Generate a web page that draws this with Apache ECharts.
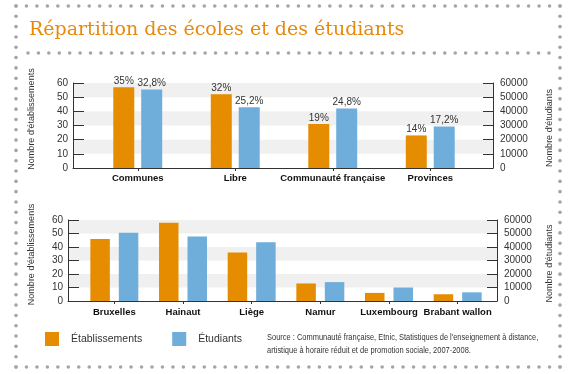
<!DOCTYPE html>
<html><head><meta charset="utf-8">
<script src="https://cdn.jsdelivr.net/npm/echarts@6/dist/echarts.min.js"></script>
<style>html,body{margin:0;padding:0;background:#fff}#c{width:570px;height:374px}</style>
</head><body><div id="c"></div>
<script>
// ---- data ----
const topCategories = ['Communes', 'Libre', 'Communauté française', 'Provinces'];
const topEtab = [57, 52, 31, 23];
const topEtud = [55500, 42800, 42000, 29300];
const topEtabPct = ['35%', '32%', '19%', '14%'];
const topEtudPct = ['32,8%', '25,2%', '24,8%', '17,2%'];
const botCategories = ['Bruxelles', 'Hainaut', 'Liège', 'Namur', 'Luxembourg', 'Brabant wallon'];
const botEtab = [46, 58, 36, 13, 6, 5];
const botEtud = [50500, 47700, 43600, 14000, 10000, 6400];
const leftTicks = [0, 60, 10];
const rightTicks = [0, 60000, 10000];
const seriesNames = ['Établissements', 'Étudiants'];
const titleText = 'Répartition des écoles et des étudiants';
const sourceLines = ["Source : Communauté française, Etnic, Statistiques de l'enseignement à distance,", "artistique à horaire réduit et de promotion sociale, 2007-2008."];

const FONT = "'Liberation Sans', Arial, sans-serif";
const ORANGE = '#E68C00', BLUE = '#6FAEDB', TXT = '#333333';

const chart = echarts.init(document.getElementById('c'), null, {renderer: 'canvas'});

function frameY(pos, range, tickLen, name, gap, pad) {
  return {
    type: 'value', position: pos, min: range[0], max: range[1], interval: range[2],
    axisLine: {show: true, lineStyle: {color: TXT, width: 1}},
    axisTick: {show: true, inside: true, length: tickLen, lineStyle: {color: TXT}},
    axisLabel: {color: TXT, fontFamily: FONT, fontSize: 10, margin: pos === 'left' ? 5 : 7,
      formatter: v => String(v)},
    splitLine: {show: false},
    splitArea: pos === 'left' ? {show: true, areaStyle: {color: ['rgba(255,255,255,0)', '#F0F0F0']}} : {show: false},
    name: name, nameLocation: 'middle', nameGap: gap, nameRotate: 90,
    nameTextStyle: {color: TXT, fontFamily: FONT, fontSize: 9, padding: pad}
  };
}
function hiddenY(range) {
  return {type: 'value', show: false, min: range[0], max: range[1], interval: range[2], splitLine: {show: false}};
}
function frameX() {
  return {type: 'value', min: 0, max: 1, axisLine: {show: true, lineStyle: {color: TXT}},
    axisTick: {show: false}, axisLabel: {show: false}, splitLine: {show: false}};
}
function catX(cats, margin) {
  return {type: 'category', data: cats, axisLine: {show: false},
    axisTick: {show: true, alignWithLabel: true, length: 3, lineStyle: {color: TXT}},
    axisLabel: {color: '#111', fontFamily: FONT, fontWeight: 'bold', fontSize: 9.5, margin: margin, interval: 0},
    splitLine: {show: false}};
}

// decorative dotted frame
const dots = [];
function dotRow(x0, x1, y, n) { for (let i = 0; i <= n; i++) dots.push({type: 'circle', shape: {cx: x0 + (x1 - x0) * i / n, cy: y, r: 1.8}, style: {fill: '#A5A5A5'}, silent: true}); }
function dotCol(x, y0, y1, n) { for (let i = 0; i <= n; i++) dots.push({type: 'circle', shape: {cx: x, cy: y0 + (y1 - y0) * i / n, r: 1.8}, style: {fill: '#A5A5A5'}, silent: true}); }
dotRow(16, 560, 6, 52);
dotRow(28, 549, 53, 50);
dotRow(16, 560, 367, 52);
dotCol(16, 6, 367, 35);
dotCol(560, 6, 367, 35);

const option = {
  animation: false,
  backgroundColor: '#fff',
  textStyle: {fontFamily: FONT},
  title: {text: titleText, left: 29, top: 21, padding: 0,
    textStyle: {color: '#E8890C', fontFamily: "'DejaVu Serif', serif", fontSize: 19, fontWeight: 'normal'}},
  legend: {data: seriesNames, left: 45, top: 332, padding: 0, icon: 'rect', itemWidth: 14, itemHeight: 14, itemGap: 30,
    textStyle: {color: TXT, fontFamily: FONT, fontSize: 10.5, padding: [0, 0, 0, 7]}},
  grid: [
    {left: 73, right: 77, top: 83, bottom: 206},
    {left: 89, right: 91, top: 83, bottom: 206},
    {left: 68, right: 73, top: 220, bottom: 73},
    {left: 80, right: 78, top: 220, bottom: 73}
  ],
  xAxis: [
    Object.assign(frameX(), {gridIndex: 0}),
    Object.assign(catX(topCategories, 5), {gridIndex: 1}),
    Object.assign(frameX(), {gridIndex: 2}),
    Object.assign(catX(botCategories, 6), {gridIndex: 3})
  ],
  yAxis: [
    Object.assign(frameY('left', leftTicks, 11, "Nombre d'établissements", 37, [0, 0, 0, 13]), {gridIndex: 0}),
    Object.assign(frameY('right', rightTicks, 10, "Nombre d'étudiants", 52, [0, 5, 0, 0]), {gridIndex: 0}),
    Object.assign(hiddenY(leftTicks), {gridIndex: 1}),
    Object.assign(hiddenY(rightTicks), {gridIndex: 1}),
    Object.assign(frameY('left', leftTicks, 11, "Nombre d'établissements", 32, [0, 0, 0, 12]), {gridIndex: 2}),
    Object.assign(frameY('right', rightTicks, 10, "Nombre d'étudiants", 48, [0, 6, 0, 0]), {gridIndex: 2}),
    Object.assign(hiddenY(leftTicks), {gridIndex: 3}),
    Object.assign(hiddenY(rightTicks), {gridIndex: 3})
  ],
  series: [
    {name: seriesNames[0], type: 'bar', xAxisIndex: 1, yAxisIndex: 2, data: topEtab, barWidth: 21, barGap: '33%',
      itemStyle: {color: ORANGE},
      label: {show: true, position: 'top', distance: 1, color: TXT, fontFamily: FONT, fontSize: 10,
        formatter: p => topEtabPct[p.dataIndex]}},
    {name: seriesNames[1], type: 'bar', xAxisIndex: 1, yAxisIndex: 3, data: topEtud, barWidth: 21, barGap: '33%',
      itemStyle: {color: BLUE},
      label: {show: true, position: 'top', distance: 1, color: TXT, fontFamily: FONT, fontSize: 10,
        formatter: p => topEtudPct[p.dataIndex]}},
    {name: seriesNames[0], type: 'bar', xAxisIndex: 3, yAxisIndex: 6, data: botEtab, barWidth: 19.5, barGap: '46%',
      itemStyle: {color: ORANGE}},
    {name: seriesNames[1], type: 'bar', xAxisIndex: 3, yAxisIndex: 7, data: botEtud, barWidth: 19.5, barGap: '46%',
      itemStyle: {color: BLUE}}
  ],
  graphic: dots.concat([
    {type: 'text', x: 267, y: 331, scaleX: 0.83, silent: true,
      style: {text: sourceLines.join('\n'), fill: TXT, font: "9px 'Liberation Sans', Arial, sans-serif", lineHeight: 13}}
  ])
};
chart.setOption(option);
</script></body></html>
